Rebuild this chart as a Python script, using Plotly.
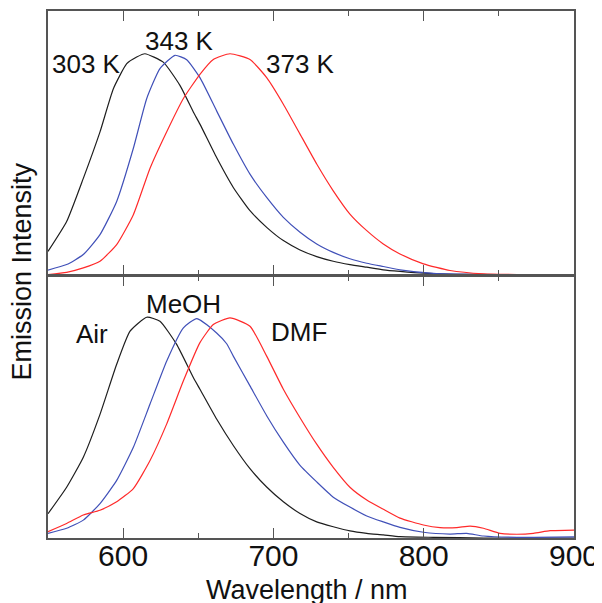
import plotly.graph_objects as go

# ---------------- data ----------------
# Top panel: temperature series
wl_303 = [550, 562.4, 573.5, 584.6, 593.5, 602.4, 609.0, 614.5, 626.7, 637.8, 646.7, 651.1,
          662.2, 673.3, 684.4, 695.5, 706.6, 717.7, 728.8, 739.8, 750.9, 762.1, 773.1, 784.2,
          800, 820, 850, 900]
int_303 = [0.104, 0.239, 0.434, 0.644, 0.839, 0.952, 0.982, 0.997, 0.959, 0.854, 0.734, 0.679,
           0.528, 0.393, 0.288, 0.213, 0.153, 0.111, 0.081, 0.060, 0.045, 0.033, 0.021, 0.014,
           0.006, 0.001, 0.0, 0.0]

wl_343 = [550, 562.4, 573.5, 584.6, 595.7, 606.8, 615.7, 624.5, 634.5, 642.3, 651.1, 662.2,
          673.3, 684.4, 695.5, 706.6, 717.7, 728.8, 739.8, 750.9, 762.1, 773.1, 784.2, 806.4,
          840, 900]
int_343 = [0.02, 0.045, 0.09, 0.18, 0.33, 0.57, 0.795, 0.93, 0.99, 0.97, 0.889, 0.739,
           0.589, 0.453, 0.348, 0.258, 0.191, 0.138, 0.100, 0.071, 0.051, 0.036, 0.021, 0.005,
           0.0, 0.0]

wl_373 = [550, 562.4, 573.5, 584.6, 595.7, 606.8, 617.9, 629.0, 640.1, 651.1, 660.0, 671.1,
          684.4, 695.5, 706.6, 717.7, 728.8, 739.8, 750.9, 762.1, 773.1, 784.2, 799.8, 817.5,
          839.7, 862, 900]
int_373 = [0.0, 0.01, 0.03, 0.06, 0.135, 0.27, 0.48, 0.645, 0.795, 0.904, 0.971, 0.997,
           0.971, 0.889, 0.769, 0.634, 0.499, 0.378, 0.273, 0.198, 0.138, 0.093, 0.048, 0.018,
           0.003, 0.0, 0.0]

# Bottom panel: environment series
wl_air = [550, 562.4, 573.5, 584.6, 595.7, 604.6, 615.7, 624.5, 635.6, 646.7, 651.1, 662.2,
          673.3, 684.4, 695.5, 706.6, 717.7, 728.8, 739.8, 750.9, 762.1, 773.1, 784.2, 806.4,
          840, 900]
int_air = [0.11, 0.23, 0.366, 0.56, 0.787, 0.937, 1.0, 0.982, 0.877, 0.727, 0.674, 0.539,
           0.419, 0.314, 0.231, 0.164, 0.111, 0.073, 0.051, 0.032, 0.021, 0.014, 0.006, 0.003,
           0.0, 0.0]

wl_meoh = [550, 562.4, 573.5, 584.6, 595.7, 606.8, 617.9, 629.0, 640.1, 649.0, 662.2, 668.9,
           673.3, 684.4, 695.5, 706.6, 717.7, 728.8, 739.8, 750.9, 762.1, 773.1, 784.2, 799.8,
           817.5, 828.6, 839.7, 861.9, 900]
int_meoh = [0.021, 0.044, 0.081, 0.156, 0.261, 0.411, 0.607, 0.802, 0.952, 0.994, 0.929, 0.88,
            0.824, 0.689, 0.554, 0.434, 0.329, 0.254, 0.185, 0.140, 0.100, 0.073, 0.048, 0.026,
            0.018, 0.021, 0.009, 0.003, 0.005]

wl_dmf = [550, 562.4, 573.5, 584.6, 595.7, 606.8, 617.9, 629.0, 640.1, 651.1, 660.0, 671.1,
          684.4, 695.5, 706.6, 717.7, 728.8, 739.8, 750.9, 762.1, 773.1, 784.2, 799.8, 810.9,
          822.0, 830.9, 839.7, 850.8, 861.9, 873.0, 884.1, 900]
int_dmf = [0.029, 0.066, 0.104, 0.126, 0.164, 0.224, 0.351, 0.517, 0.712, 0.885, 0.967, 0.997,
           0.959, 0.824, 0.674, 0.545, 0.425, 0.320, 0.230, 0.172, 0.130, 0.090, 0.059, 0.047,
           0.047, 0.054, 0.044, 0.021, 0.017, 0.021, 0.033, 0.036]

tick_vals = [600, 700, 800, 900]
tick_text = ["600", "700", "800", "900"]
minor_vals = [650, 750, 850]

top_labels = ["303 K", "343 K", "373 K"]
bottom_labels = ["Air", "MeOH", "DMF"]

# ---------------- styling ----------------
BLACK = "#1e1e1e"
BLUE = "#4050b8"
RED = "#ff2a2a"
FONT = "Liberation Sans, Arial, sans-serif"
AXC = "#555555"

fig = go.Figure()

def add(x, y, color, xa, ya):
    fig.add_trace(go.Scatter(x=x, y=y, mode="lines", xaxis=xa, yaxis=ya,
                             line=dict(color=color, width=1.2, shape="spline", smoothing=0.5),
                             showlegend=False, hoverinfo="skip"))

add(wl_303, int_303, BLACK, "x", "y")
add(wl_343, int_343, BLUE, "x", "y")
add(wl_373, int_373, RED, "x", "y")
add(wl_air, int_air, BLACK, "x2", "y2")
add(wl_meoh, int_meoh, BLUE, "x2", "y2")
add(wl_dmf, int_dmf, RED, "x2", "y2")

xcommon = dict(range=[550, 900], tickvals=tick_vals, ticktext=tick_text, ticks="inside",
               ticklen=10, tickwidth=1.2, tickcolor=AXC, showline=True, linecolor=AXC,
               linewidth=1.5, mirror="ticks", showgrid=False, zeroline=False, automargin=False,
               minor=dict(tickvals=minor_vals, ticks="inside", ticklen=5, tickwidth=1.2,
                          tickcolor=AXC, showgrid=False))
ycommon = dict(showticklabels=False, ticks="", showline=True, linecolor=AXC, linewidth=1.5,
               mirror=True, showgrid=False, zeroline=False, automargin=False)

# page body adds an 8px offset; margins compensate so the plot lands where the reference has it
fig.update_layout(
    width=602, height=603,
    margin=dict(l=40, r=36, t=3, b=73),
    plot_bgcolor="white", paper_bgcolor="white",
    font=dict(family=FONT, color="#111111", size=26),
    xaxis=dict(**xcommon, anchor="y", domain=[0, 1], showticklabels=False),
    yaxis=dict(**ycommon, domain=[0.5, 1], range=[0, 1.19]),
    xaxis2=dict(**xcommon, anchor="y2", domain=[0, 1], showticklabels=True,
                ticklabelstandoff=-10,
                tickfont=dict(size=30, family=FONT, color="#111111")),
    yaxis2=dict(**ycommon, domain=[0, 0.4972], range=[0, 1.187]),
)

ann_font = dict(size=26, family=FONT, color="#111111")
# top panel labels
fig.add_annotation(x=575.3, y=0.95, xref="x", yref="y", text=top_labels[0], showarrow=False,
                   font=ann_font, xanchor="center", yanchor="middle")
fig.add_annotation(x=637.2, y=1.054, xref="x", yref="y", text=top_labels[1], showarrow=False,
                   font=ann_font, xanchor="center", yanchor="middle")
fig.add_annotation(x=718, y=0.95, xref="x", yref="y", text=top_labels[2], showarrow=False,
                   font=ann_font, xanchor="center", yanchor="middle")
# bottom panel labels
fig.add_annotation(x=579.3, y=0.923, xref="x2", yref="y2", text=bottom_labels[0], showarrow=False,
                   font=ann_font, xanchor="center", yanchor="middle")
fig.add_annotation(x=640.2, y=1.059, xref="x2", yref="y2", text=bottom_labels[1], showarrow=False,
                   font=ann_font, xanchor="center", yanchor="middle")
fig.add_annotation(x=716.7, y=0.932, xref="x2", yref="y2", text=bottom_labels[2], showarrow=False,
                   font=ann_font, xanchor="center", yanchor="middle")

# axis titles
fig.add_annotation(x=0.493, y=-0.0996, xref="paper", yref="paper", text="Wavelength / nm",
                   showarrow=False, font=dict(size=27, family=FONT, color="#111111"),
                   xanchor="center", yanchor="middle")
fig.add_annotation(x=-0.05, y=0.505, xref="paper", yref="paper", text="Emission Intensity",
                   showarrow=False, textangle=-90,
                   font=dict(size=27, family=FONT, color="#111111"),
                   xanchor="center", yanchor="middle")

fig.write_html("out.html")
